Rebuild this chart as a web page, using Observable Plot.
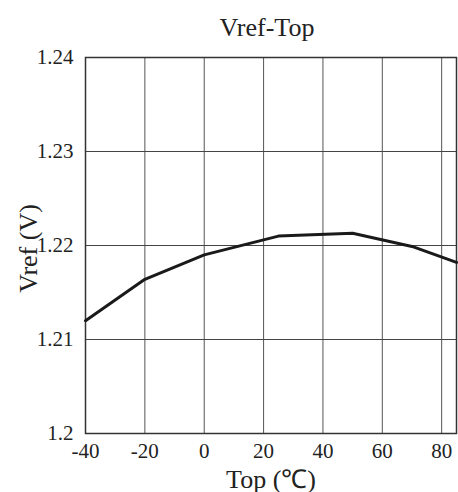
<!DOCTYPE html>
<html>
<head>
<meta charset="utf-8">
<script src="https://cdn.jsdelivr.net/npm/d3@7"></script>
<script src="https://cdn.jsdelivr.net/npm/@observablehq/plot@0.6"></script>
<style>
  html, body { margin: 0; padding: 0; background: #fff; }
</style>
</head>
<body>
<div id="chart"></div>
<script>
const temps = [-40, -20, 0, 25, 50, 70, 85];
const vref = [1.2120, 1.2164, 1.2190, 1.2210, 1.2213, 1.2199, 1.2182];
const xTicks = [-40, -20, 0, 20, 40, 60, 80];
const yTicks = [1.2, 1.21, 1.22, 1.23, 1.24];
const title = "Vref-Top";
const xLabel = "Top (℃)";
const yLabel = "Vref (V)";

const data = temps.map((t, i) => ({t, v: vref[i]}));

const chart = Plot.plot({
  width: 458,
  height: 492,
  marginTop: 57,
  marginLeft: 85,
  marginRight: 2,
  marginBottom: 59,
  style: {fontFamily: "'Liberation Serif', 'Times New Roman', serif", fontSize: "20px", background: "white", color: "#222"},
  x: {domain: [-40, 85], ticks: xTicks, tickFormat: d => String(d)},
  y: {domain: [1.2, 1.24], ticks: yTicks, tickFormat: d => String(+d.toFixed(2))},
  marks: [
    Plot.gridX(xTicks, {stroke: "#555", strokeOpacity: 1, strokeWidth: 1}),
    Plot.gridY(yTicks, {stroke: "#444", strokeOpacity: 1, strokeWidth: 1}),
    Plot.frame({stroke: "#333", strokeWidth: 1.5}),
    Plot.line(data, {x: "t", y: "v", stroke: "#1a1a1a", strokeWidth: 3}),
    Plot.axisX(xTicks, {tickSize: 0, tickPadding: 10, label: null, fontSize: 21, tickFormat: d => String(d)}),
    Plot.axisY(yTicks, {tickSize: 0, tickPadding: 12, label: null, fontSize: 21, tickFormat: d => String(+d.toFixed(2))}),
    Plot.text([title], {frameAnchor: "top", lineAnchor: "bottom", dy: -22, dx: -4, fontSize: 26}),
    Plot.text([xLabel], {frameAnchor: "bottom", lineAnchor: "bottom", dy: 54, fontSize: 26}),
    Plot.text([yLabel], {frameAnchor: "left", textAnchor: "middle", rotate: -90, dx: -57, dy: 3, fontSize: 26})
  ]
});
document.getElementById("chart").appendChild(chart);
</script>
</body>
</html>
